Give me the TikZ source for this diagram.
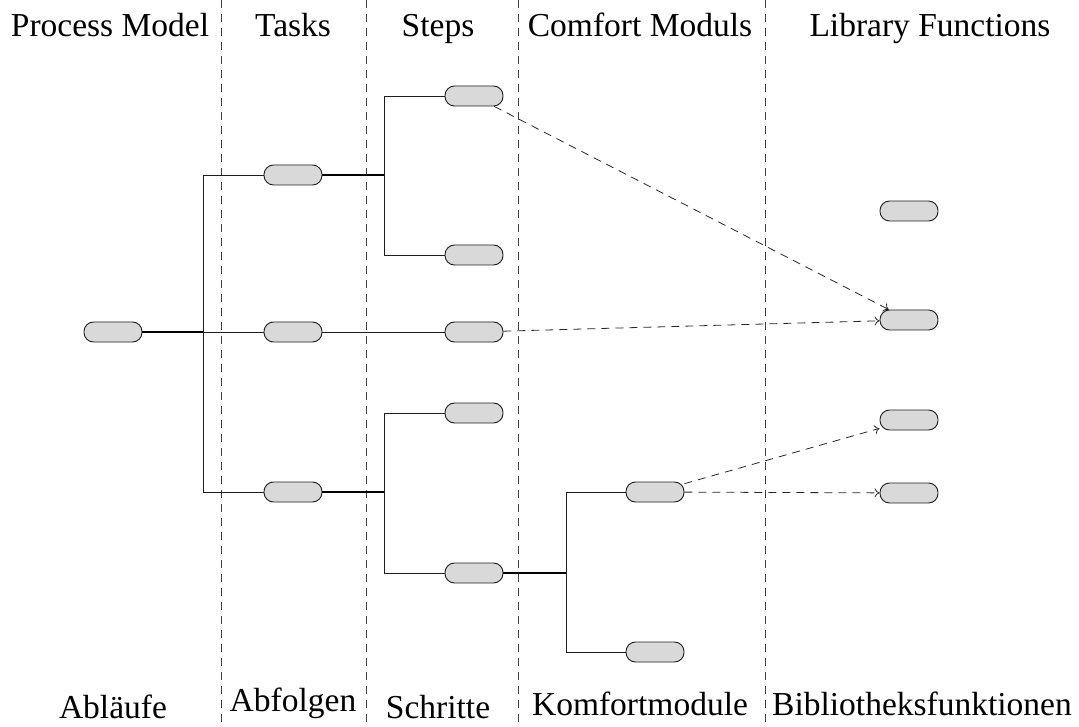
\documentclass[tikz,border=0pt]{standalone}
\usepackage{fontspec}
\setmainfont{Liberation Serif}
\usetikzlibrary{arrows.meta}
\definecolor{pillgray}{RGB}{217,217,217}
\definecolor{edge}{RGB}{30,30,30}
\tikzset{
  pill/.style={draw=edge, line width=0.9pt, fill=pillgray, rectangle,
    rounded corners=9.5pt, minimum width=58pt, minimum height=20pt, inner sep=0pt},
  link/.style={draw=edge, line width=0.9pt},
  fork/.style={draw=black, line width=1.4pt},
  lane/.style={draw=black!75, line width=0.7pt, dash pattern=on 8pt off 6pt},
  callarrow/.style={draw=black!85, line width=0.8pt, dash pattern=on 8pt off 6pt, -{To[length=5pt,width=9pt]}},
  head/.style={font=\fontsize{33.5}{40}\selectfont, anchor=base, inner sep=0pt}
}
\begin{document}
\begin{tikzpicture}[x=1pt,y=-1pt]
\useasboundingbox (0,0) rectangle (1079,727);

% lane separators
\draw[lane] (221,0) -- (221,727);
\draw[lane] (366,0) -- (366,727);
\draw[lane] (518,0) -- (518,727);
\draw[lane] (765,0) -- (765,727);

% column headings
\node[head] (h1) at (110,37) {Process Model};
\node[head] (h2) at (293,37) {Tasks};
\node[head] (h3) at (438,37) {Steps};
\node[head] (h4) at (640,37) {Comfort Moduls};
\node[head] (h5) at (930,37) {Library Functions};

\node[head] (f1) at (113,718) {Abläufe};
\node[head] (f2) at (293,711) {Abfolgen};
\node[head] (f3) at (438,718) {Schritte};
\node[head] (f4) at (640,715) {Komfortmodule};
\node[head] (f5) at (922,715) {Bibliotheksfunktionen};

% nodes
\node[pill] (a)  at (113,332) {};
\node[pill] (t1) at (293,175) {};
\node[pill] (t2) at (293,332) {};
\node[pill] (t3) at (293,492) {};
\node[pill] (s1) at (474,96) {};
\node[pill] (s2) at (474,255) {};
\node[pill] (s3) at (474,332) {};
\node[pill] (s4) at (474,413) {};
\node[pill] (s5) at (474,573) {};
\node[pill] (c1) at (655,492) {};
\node[pill] (c2) at (655,652) {};
\node[pill] (l1) at (909,211) {};
\node[pill] (l2) at (909,320) {};
\node[pill] (l3) at (909,420) {};
\node[pill] (l4) at (909,493) {};

% fork points
\coordinate (ja) at (203,332);
\coordinate (j1) at (384,175);
\coordinate (j3) at (384,492);
\coordinate (j5) at (566,573);

% tree connectors
\draw[fork] (a.east) -- (ja);
\draw[link] (ja) |- (t1.west);
\draw[link] (ja) |- (t3.west);
\draw[link] (ja) -- (t2.west);
\draw[link] (t2.east) -- (s3.west);

\draw[fork] (t1.east) -- (j1);
\draw[link] (j1) |- (s1.west);
\draw[link] (j1) |- (s2.west);

\draw[fork] (t3.east) -- (j3);
\draw[link] (j3) |- (s4.west);
\draw[link] (j3) |- (s5.west);

\draw[fork] (s5.east) -- (j5);
\draw[link] (j5) |- (c1.west);
\draw[link] (j5) |- (c2.west);

% calls into the library
\draw[callarrow] (s1) -- (l2);
\draw[callarrow] (s3) -- (l2);
\draw[callarrow] (c1) -- (l3);
\draw[callarrow] (c1) -- (l4);
\end{tikzpicture}
\end{document}
